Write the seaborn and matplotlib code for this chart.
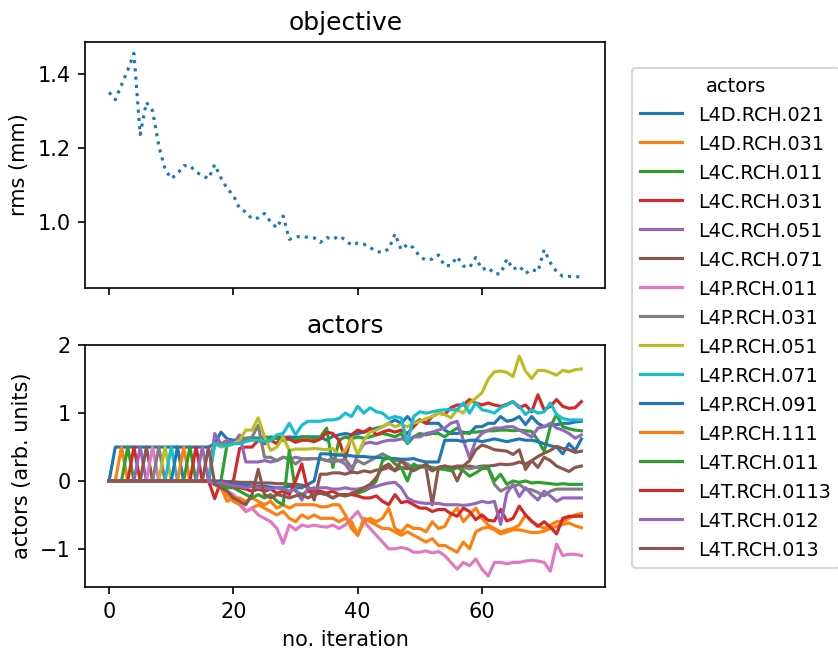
import matplotlib
matplotlib.use("Agg")
import matplotlib.pyplot as plt
import seaborn as sns
import pandas as pd

# iteration index shared by both panels
iterations = list(range(77))

# objective: rms beam size per iteration (mm)
rms = [1.350, 1.330, 1.370, 1.410, 1.455, 1.236, 1.323, 1.300, 1.205, 1.143,
       1.117, 1.130, 1.152, 1.152, 1.135, 1.125, 1.117, 1.155, 1.119, 1.090,
       1.072, 1.036, 1.027, 1.008, 1.011, 1.023, 1.000, 0.984, 1.016, 0.953,
       0.959, 0.962, 0.958, 0.957, 0.945, 0.958, 0.953, 0.962, 0.952, 0.937,
       0.943, 0.940, 0.931, 0.920, 0.918, 0.927, 0.968, 0.925, 0.940, 0.930,
       0.906, 0.897, 0.900, 0.911, 0.881, 0.883, 0.906, 0.881, 0.877, 0.904,
       0.872, 0.877, 0.860, 0.860, 0.900, 0.872, 0.881, 0.861, 0.872, 0.866,
       0.925, 0.890, 0.866, 0.853, 0.853, 0.852, 0.852]

actor_names = ["L4D.RCH.021", "L4D.RCH.031", "L4C.RCH.011", "L4C.RCH.031",
               "L4C.RCH.051", "L4C.RCH.071", "L4P.RCH.011", "L4P.RCH.031",
               "L4P.RCH.051", "L4P.RCH.071", "L4P.RCH.091", "L4P.RCH.111",
               "L4T.RCH.011", "L4T.RCH.0113", "L4T.RCH.012", "L4T.RCH.013"]

# actor settings per iteration (arb. units)
l4d_rch_021 = [0.00, 0.50, 0.50, 0.50, 0.50, 0.50, 0.50, 0.50, 0.50, 0.50, 0.50, 0.50, 0.50, 0.50, 0.50, 0.50, 0.50,
               0.55, 0.72, 0.62, 0.60, 0.62, 0.63, 0.64, 0.63, 0.65, 0.64,
               0.65, 0.64, 0.65, 0.64, 0.65, 0.65, 0.65, 0.65, 0.60, 0.66,
               0.68, 0.70, 0.68, 0.70, 0.72, 0.75, 0.78, 0.80, 0.85, 0.90,
               0.85, 0.95, 0.85, 0.90, 0.85, 0.85, 0.85, 0.75, 0.70, 0.70,
               0.72, 0.70, 0.80, 0.80, 0.85, 0.85, 0.95, 0.88, 0.90, 0.95,
               0.83, 0.95, 0.85, 0.80, 0.83, 0.83, 0.85, 0.85, 0.87, 0.88]
l4d_rch_031 = [0.00, 0.00, 0.50, 0.00, 0.00, 0.00, 0.00, 0.00, 0.00, 0.00, 0.00, 0.00, 0.00, 0.00, 0.00, 0.00, 0.00,
               -0.05, -0.10, -0.20, -0.30, -0.35, -0.45, -0.40, -0.35, -0.40, -0.45,
               -0.50, -0.45, -0.55, -0.60, -0.50, -0.55, -0.50, -0.55, -0.55, -0.55,
               -0.60, -0.55, -0.60, -0.80, -0.55, -0.60, -0.65, -0.70, -0.70, -0.75,
               -0.80, -0.75, -0.80, -0.85, -0.90, -0.85, -0.95, -0.95, -1.00, -1.05,
               -0.90, -1.00, -0.75, -0.70, -0.68, -0.72, -0.78, -0.75, -0.72, -0.72,
               -0.74, -0.76, -0.76, -0.74, -0.70, -0.67, -0.64, -0.62, -0.66, -0.69]
l4c_rch_011 = [0.00, 0.00, 0.00, 0.50, 0.00, 0.00, 0.00, 0.00, 0.00, 0.00, 0.00, 0.00, 0.00, 0.00, 0.00, 0.00, 0.00,
               -0.05, 0.00, 0.55, 0.55, 0.58, 0.60, 0.62, 0.62, 0.60, 0.65,
               0.62, 0.60, 0.62, 0.60, 0.65, 0.65, 0.62, 0.65, 0.78, 0.20,
               0.60, 0.65, 0.62, 0.65, 0.63, 0.65, 0.68, 0.70, 0.68, 0.65,
               0.70, 0.55, 0.65, 0.70, 0.68, 0.70, 0.70, 0.65, 0.72, 0.78,
               0.70, 0.72, 0.72, 0.73, 0.74, 0.74, 0.75, 0.75, 0.74, 0.75,
               0.74, 0.73, 0.60, 0.44, 0.80, 0.98, 0.80, 0.77, 0.75, 0.74]
l4c_rch_031 = [0.00, 0.00, 0.00, 0.00, 0.50, 0.00, 0.00, 0.00, 0.00, 0.00, 0.00, 0.00, 0.00, 0.00, 0.00, 0.00, 0.00,
               -0.26, 0.00, -0.02, 0.00, 0.48, 0.50, 0.50, 0.60, 0.55, 0.60,
               0.55, 0.65, 0.62, 0.57, 0.60, 0.60, 0.58, 0.62, 0.72, 0.70,
               0.60, 0.32, 0.68, 0.75, 0.72, 0.78, 0.68, 0.72, 0.75, 0.72,
               0.75, 0.70, 0.80, 0.90, 0.85, 0.95, 1.00, 0.98, 1.08, 1.12,
               1.12, 1.20, 1.15, 1.12, 1.15, 1.12, 1.10, 1.13, 1.17, 1.08,
               1.12, 1.02, 1.27, 1.05, 1.10, 1.20, 1.10, 1.07, 1.08, 1.17]
l4c_rch_051 = [0.00, 0.00, 0.00, 0.00, 0.00, 0.50, 0.00, 0.00, 0.00, 0.00, 0.00, 0.00, 0.00, 0.00, 0.00, 0.00, 0.00,
               0.70, 0.55, 0.60, 0.55, 0.68, 0.28, 0.28, 0.28, 0.30, 0.28,
               0.30, 0.35, 0.32, 0.35, 0.33, 0.32, 0.33, 0.33, 0.30, 0.33,
               0.30, 0.25, 0.12, 0.40, 0.55, 0.57, 0.55, 0.58, 0.60, 0.60,
               0.62, 0.60, 0.65, 0.65, 0.70, 0.72, 0.75, 0.78, 0.85, 0.88,
               0.60, 0.34, 0.60, 0.70, 0.75, 0.78, 0.78, 0.80, 0.80, 0.75,
               0.70, 0.65, 0.78, 0.80, 0.85, 0.78, 0.75, 0.70, 0.63, 0.68]
l4c_rch_071 = [0.00, 0.00, 0.00, 0.00, 0.00, 0.00, 0.50, 0.00, 0.00, 0.00, 0.00, 0.00, 0.00, 0.00, 0.00, 0.00, 0.00,
               0.00, 0.00, -0.01, -0.01, -0.02, -0.02, -0.02, -0.03, -0.03, -0.03,
               -0.04, -0.04, -0.05, -0.05, -0.06, -0.08, -0.28, 0.10, 0.10, 0.12,
               0.12, 0.10, 0.13, 0.12, 0.15, 0.13, 0.16, 0.17, 0.20, 0.15,
               0.20, 0.18, 0.20, 0.22, 0.20, -0.35, 0.20, 0.22, 0.20, 0.00,
               0.20, 0.22, 0.20, 0.22, 0.22, 0.23, 0.25, 0.24, 0.25, 0.28,
               0.25, 0.30, 0.20, 0.35, 0.30, 0.22, 0.18, 0.14, 0.20, 0.22]
l4p_rch_011 = [0.00, 0.00, 0.00, 0.00, 0.00, 0.00, 0.00, 0.50, 0.00, 0.00, 0.00, 0.00, 0.00, 0.00, 0.00, 0.00, 0.00,
               -0.05, -0.10, -0.15, -0.20, -0.30, -0.45, -0.40, -0.50, -0.55, -0.60,
               -0.70, -0.92, -0.65, -0.72, -0.65, -0.67, -0.65, -0.67, -0.68, -0.65,
               -0.70, -0.65, -0.55, -0.45, -0.60, -0.70, -0.80, -0.90, -1.00, -1.00,
               -0.98, -1.00, -1.05, -1.05, -1.03, -1.06, -1.04, -1.10, -1.20, -1.30,
               -1.20, -1.25, -1.15, -1.30, -1.40, -1.20, -1.20, -1.22, -1.20, -1.20,
               -1.18, -1.17, -1.18, -1.20, -1.33, -0.93, -1.10, -1.08, -1.08, -1.10]
l4p_rch_031 = [0.00, 0.00, 0.00, 0.00, 0.00, 0.00, 0.00, 0.00, 0.50, 0.00, 0.00, 0.00, 0.00, 0.00, 0.00, 0.00, 0.00,
               0.55, 0.55, 0.52, 0.55, 0.60, 0.62, 0.65, 0.82, 0.35, 0.35,
               0.30, 0.35, 0.33, 0.25, 0.32, 0.33, 0.33, 0.33, 0.30, 0.28,
               0.30, 0.32, 0.20, 0.30, 0.25, 0.30, 0.35, 0.40, 0.35, 0.30,
               0.30, 0.25, 0.20, 0.22, 0.20, 0.15, 0.20, 0.20, 0.18, 0.20,
               0.20, 0.18, 0.20, 0.20, 0.18, -0.05, -0.15, -0.10, -0.08, -0.05,
               -0.12, -0.13, -0.17, -0.22, -0.15, -0.12, -0.12, -0.12, -0.12, -0.12]
l4p_rch_051 = [0.00, 0.00, 0.00, 0.00, 0.00, 0.00, 0.00, 0.00, 0.00, 0.50, 0.00, 0.00, 0.00, 0.00, 0.00, 0.00, 0.00,
               0.55, 0.50, 0.52, 0.55, 0.60, 0.75, 0.75, 0.93, 0.65, 0.45,
               0.50, 0.65, 0.45, 0.47, 0.47, 0.47, 0.48, 0.47, 0.46, 0.48,
               0.38, 0.45, 0.63, 0.38, 0.60, 0.72, 0.75, 0.80, 0.85, 0.80,
               0.83, 0.80, 0.85, 0.88, 0.92, 0.95, 1.00, 0.98, 0.93, 1.05,
               1.00, 1.15, 1.22, 1.30, 1.50, 1.61, 1.62, 1.60, 1.54, 1.84,
               1.62, 1.51, 1.63, 1.63, 1.60, 1.56, 1.63, 1.61, 1.64, 1.65]
l4p_rch_071 = [0.00, 0.00, 0.00, 0.00, 0.00, 0.00, 0.00, 0.00, 0.00, 0.00, 0.50, 0.00, 0.00, 0.00, 0.00, 0.00, 0.00,
               0.55, 0.52, 0.52, 0.55, 0.55, 0.58, 0.60, 0.60, 0.58, 0.60,
               0.68, 0.70, 0.85, 0.68, 0.82, 0.88, 0.88, 0.88, 0.90, 0.90,
               0.92, 1.00, 0.95, 1.10, 1.00, 1.08, 1.02, 1.00, 0.92, 0.95,
               0.93, 0.56, 0.95, 1.02, 1.00, 1.02, 1.04, 1.05, 1.05, 1.05,
               1.15, 1.00, 1.15, 1.05, 1.03, 1.00, 1.08, 1.12, 1.17, 1.10,
               0.98, 1.05, 1.00, 1.02, 1.15, 0.98, 0.92, 0.90, 0.90, 0.90]
l4p_rch_091 = [0.00, 0.00, 0.00, 0.00, 0.00, 0.00, 0.00, 0.00, 0.00, 0.00, 0.00, 0.50, 0.00, 0.00, 0.00, 0.00, 0.00,
               0.00, -0.02, -0.03, -0.05, -0.05, -0.06, -0.07, -0.08, -0.08, -0.09,
               -0.10, -0.10, -0.08, -0.10, -0.10, -0.05, 0.00, 0.40, 0.40, 0.39,
               0.38, 0.38, 0.37, 0.36, 0.36, 0.35, 0.35, 0.34, 0.33, 0.33,
               0.32, 0.32, 0.33, 0.30, 0.28, 0.28, 0.28, 0.60, 0.60, 0.60,
               0.58, 0.60, 0.60, 0.58, 0.60, 0.62, 0.60, 0.58, 0.60, 0.62,
               0.60, 0.60, 0.58, 0.55, 0.52, 0.50, 0.40, 0.55, 0.45, 0.62]
l4p_rch_111 = [0.00, 0.00, 0.00, 0.00, 0.00, 0.00, 0.00, 0.00, 0.00, 0.00, 0.00, 0.00, 0.50, 0.00, 0.00, 0.00, 0.00,
               -0.05, -0.10, -0.30, -0.25, -0.25, -0.30, -0.25, -0.30, -0.35, -0.30,
               -0.40, -0.35, -0.40, -0.35, -0.35, -0.35, -0.35, -0.38, -0.38, -0.35,
               -0.35, -0.50, -0.70, -0.80, -0.60, -0.55, -0.60, -0.55, -0.40, -0.70,
               -0.75, -0.65, -0.70, -0.70, -0.75, -0.60, -0.70, -0.67, -0.50, -0.40,
               -0.60, -0.50, -0.40, -0.55, -0.65, -0.70, -0.75, -0.72, -0.70, -0.65,
               -0.50, -0.60, -0.65, -0.70, -0.65, -0.60, -0.60, -0.55, -0.50, -0.48]
l4t_rch_011 = [0.00, 0.00, 0.00, 0.00, 0.00, 0.00, 0.00, 0.00, 0.00, 0.00, 0.00, 0.00, 0.00, 0.50, 0.00, 0.00, 0.00,
               -0.05, -0.05, -0.10, -0.10, -0.15, -0.20, -0.25, -0.20, -0.25, -0.20,
               -0.30, -0.35, 0.45, -0.15, -0.20, -0.15, -0.10, -0.18, -0.20, -0.25,
               -0.20, -0.22, -0.20, -0.18, -0.15, -0.10, 0.00, 0.30, 0.35, 0.25,
               0.20, 0.00, 0.25, 0.20, 0.22, 0.20, 0.18, 0.17, 0.15, 0.20,
               0.15, 0.07, 0.12, 0.18, 0.20, 0.00, 0.10, -0.05, 0.00, -0.02,
               0.00, -0.03, -0.02, -0.03, -0.04, -0.05, -0.04, -0.05, -0.05, -0.05]
l4t_rch_0113 = [0.00, 0.00, 0.00, 0.00, 0.00, 0.00, 0.00, 0.00, 0.00, 0.00, 0.00, 0.00, 0.00, 0.00, 0.50, 0.00, 0.00,
                -0.05, -0.02, -0.05, -0.08, -0.10, -0.12, -0.15, -0.12, -0.15, -0.12,
                -0.18, -0.15, -0.20, 0.00, 0.25, -0.15, -0.15, -0.15, -0.18, -0.15,
                -0.20, -0.20, -0.20, -0.22, -0.25, -0.25, -0.22, -0.30, -0.35, -0.20,
                -0.32, -0.30, -0.35, -0.40, -0.40, -0.45, -0.42, -0.42, -0.48, -0.52,
                -0.40, -0.45, -0.57, -0.50, -0.58, -0.59, -0.42, -0.59, -0.55, -0.37,
                -0.50, -0.59, -0.67, -0.60, -0.68, -0.78, -0.55, -0.52, -0.52, -0.52]
l4t_rch_012 = [0.00, 0.00, 0.00, 0.00, 0.00, 0.00, 0.00, 0.00, 0.00, 0.00, 0.00, 0.00, 0.00, 0.00, 0.00, 0.50, 0.00,
               -0.05, -0.02, -0.05, -0.07, -0.08, -0.10, -0.08, -0.10, -0.10, -0.12,
               -0.10, -0.12, -0.15, -0.12, -0.28, -0.10, -0.12, -0.10, -0.10, -0.12,
               -0.12, -0.10, -0.12, -0.12, -0.10, -0.10, -0.08, -0.05, -0.03, -0.02,
               -0.10, -0.25, -0.30, -0.32, -0.33, -0.33, -0.33, -0.35, -0.35, -0.35,
               -0.36, -0.35, -0.33, -0.30, -0.32, -0.30, -0.64, -0.18, -0.05, -0.23,
               -0.10, -0.20, -0.28, -0.15, -0.22, -0.30, -0.25, -0.25, -0.25, -0.25]
l4t_rch_013 = [0.00, 0.00, 0.00, 0.00, 0.00, 0.00, 0.00, 0.00, 0.00, 0.00, 0.00, 0.00, 0.00, 0.00, 0.00, 0.00, 0.50,
               -0.05, -0.10, -0.15, -0.25, -0.30, -0.35, -0.20, 0.17, -0.20, -0.25,
               -0.20, -0.22, -0.25, -0.22, -0.20, -0.25, -0.20, -0.18, -0.20, -0.25,
               -0.20, -0.22, -0.18, -0.15, -0.10, -0.05, 0.05, 0.20, 0.25, 0.15,
               0.30, 0.20, 0.15, 0.20, 0.25, 0.15, 0.20, 0.22, 0.20, 0.22,
               0.22, 0.30, 0.46, 0.53, 0.50, 0.46, 0.45, 0.44, 0.39, 0.46,
               0.17, 0.30, 0.36, 0.41, 0.45, 0.51, 0.48, 0.46, 0.42, 0.44]

actor_values = [l4d_rch_021, l4d_rch_031, l4c_rch_011, l4c_rch_031,
                l4c_rch_051, l4c_rch_071, l4p_rch_011, l4p_rch_031,
                l4p_rch_051, l4p_rch_071, l4p_rch_091, l4p_rch_111,
                l4t_rch_011, l4t_rch_0113, l4t_rch_012, l4t_rch_013]

# long-form table for the actors panel
actors_df = pd.DataFrame(
    [(name, it, v) for name, vals in zip(actor_names, actor_values)
     for it, v in zip(iterations, vals)],
    columns=["actor", "iteration", "value"],
)

tab10 = sns.color_palette("tab10")
palette = [tab10[i % 10] for i in range(len(actor_names))]

fig = plt.figure(figsize=(838 / 150, 650 / 150), dpi=150)
ax_obj = fig.add_axes([0.102, 0.557, 0.620, 0.378])
ax_act = fig.add_axes([0.102, 0.097, 0.620, 0.372])

# objective panel
sns.lineplot(x=iterations, y=rms, ax=ax_obj, color=tab10[0], linestyle=":")
ax_obj.set_title("objective")
ax_obj.set_ylabel("rms (mm)")
ax_obj.set_xlabel("")
ax_obj.tick_params(labelbottom=False)

# actors panel
sns.lineplot(data=actors_df, x="iteration", y="value", hue="actor",
             hue_order=actor_names, palette=palette, ax=ax_act)
ax_act.set_title("actors")
ax_act.set_ylabel("actors (arb. units)")
ax_act.set_xlabel("no. iteration")
ax_act.set_yticks([-1, 0, 1, 2])
ax_act.set_xticks([0, 20, 40, 60])
ax_obj.set_xticks([0, 20, 40, 60])
ax_obj.set_xlim(ax_act.get_xlim())

handles, labels = ax_act.get_legend_handles_labels()
ax_act.get_legend().remove()
leg = fig.legend(handles, labels, title="actors", loc="upper left",
                 bbox_to_anchor=(0.754, 0.895), borderaxespad=0,
                 fontsize=10, labelspacing=0.48)
for txt in leg.get_texts():
    txt.set_fontsize(9.2)
leg.get_title().set_fontsize(9.3)

fig.savefig("out.png", dpi=150)
